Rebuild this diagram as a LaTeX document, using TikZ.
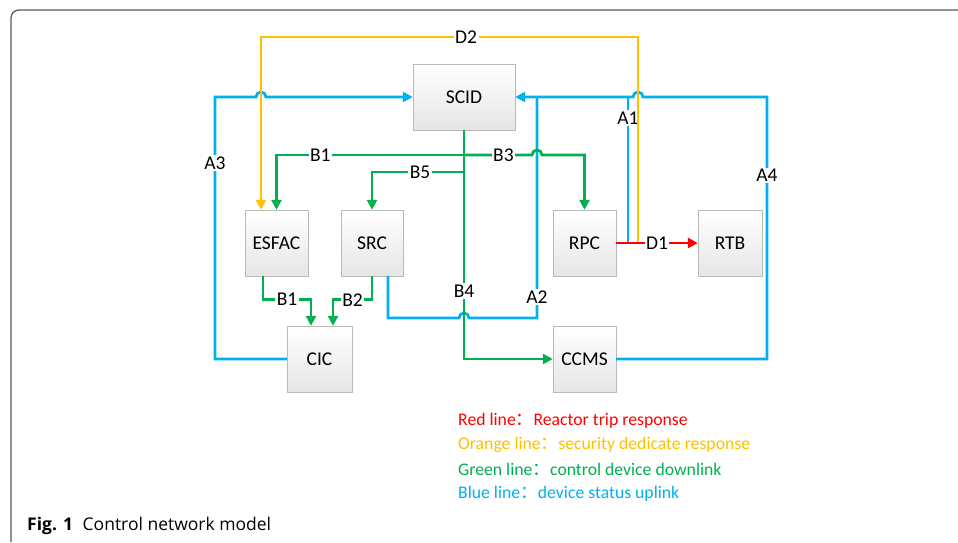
\documentclass[tikz,border=0pt]{standalone}
\usepackage{fontspec}
\setmainfont{Carlito}
\newfontfamily\cjk{Noto Sans CJK SC}
\newfontfamily\capfont{Open Sans}
\usepackage{tikz}
\usetikzlibrary{arrows.meta, positioning}
\usepackage{xcolor}
\definecolor{linkred}{RGB}{255, 0, 0}
\definecolor{linkorange}{RGB}{255, 192, 0}
\definecolor{linkgreen}{RGB}{0, 176, 80}
\definecolor{linkblue}{RGB}{0, 176, 240}
\newcommand{\wcolon}{{\cjk ：}}

\begin{document}
\begin{tikzpicture}[x=1pt, y=-1pt,
				unit/.style={draw=gray!55, top color=white, bottom color=gray!20,
					minimum height=66pt, inner sep=0pt, font=\fontsize{19.5}{22}\selectfont},
				lnk/.style={line width=2.8pt},
				tip/.style={-{Triangle[length=10pt, width=10pt]}},
				tag/.style={fill=white, text=black, inner sep=1.5pt, font=\fontsize{19.5}{22}\selectfont},
				key/.style={anchor=west, inner sep=0pt, font=\fontsize{17.7}{20}\selectfont}]
				\useasboundingbox (0,0) rectangle (958,542);
				%--- frame ---
				\draw[gray!70!black, line width=1.3pt, rounded corners=8pt]
				(11,542) -- (11,10) -- (958,10);
				%--- units ---
				\node[unit, minimum width=102pt] (scid) at (464,97) {SCID};
				\node[unit, minimum width=63pt] (esfac) at (276.5,243) {ESFAC};
				\node[unit, minimum width=62pt] (src) at (372,243) {SRC};
				\node[unit, minimum width=63pt] (rpc) at (584.5,243) {RPC};
				\node[unit, minimum width=64pt] (rtb) at (730,243) {RTB};
				\node[unit, minimum width=65pt] (cic) at (319.5,359) {CIC};
				\node[unit, minimum width=63pt] (ccms) at (584.5,359) {CCMS};
				\coordinate (b1) at (464,155);
				\coordinate (b5) at (464,172);
				\coordinate (d1) at (638,243);
				%--- blue: status uplink ---
				\draw[lnk, linkblue, tip] (cic.west) -- (215,359)
				-- node[tag, pos=0.748]{A3} (215,97) -- (256,97)
				arc[start angle=180, end angle=0, radius=5pt] -- (scid.west);
				\draw[lnk, linkblue, tip] (ccms.east) -- (767,359)
				-- node[tag, pos=0.70]{A4} (767,97) -- (643,97)
				arc[start angle=0, end angle=180, radius=5pt] -- (scid.east);
				\draw[lnk, linkblue] (628,243) -- node[tag, pos=0.856]{A1} (628,97);
				\draw[lnk, linkblue] ([xshift=16pt]src.south) -- (388,318) -- (459,318)
				arc[start angle=180, end angle=0, radius=5pt] -- (537,318)
				-- node[tag, pos=0.095]{A2} (537,97);
				%--- green: control downlink ---
				\draw[lnk, linkgreen, tip] (scid.south) -- node[tag, pos=0.703]{B4} (464,359)
				-- (ccms.west);
				\draw[lnk, linkgreen, tip] (b1) -| node[tag, pos=0.383]{B1} (esfac.north);
				\draw[lnk, linkgreen, tip] (b1) -- node[tag, pos=0.58]{B3} (532,155)
				arc[start angle=180, end angle=0, radius=5pt] -- (rpc.north |- b1) -- (rpc.north);
				\draw[lnk, linkgreen, tip] (b5) -| node[tag, pos=0.239]{B5} (src.north);
				\draw[lnk, linkgreen, tip] ([xshift=-13.5pt]esfac.south) -- ++(0,23.5)
				-- node[tag]{B1} ++(48,0) -- ([xshift=-8.5pt]cic.north);
				\draw[lnk, linkgreen, tip] (src.south) -- ++(0,23.5)
				-- node[tag]{B2} ++(-39,0) -- ([xshift=13.5pt]cic.north);
				%--- orange: security response ---
				\draw[lnk, linkorange, tip] (d1) -- (638,37)
				-- node[tag, pos=0.456]{D2} (261,37) -- ([xshift=-15.5pt]esfac.north);
				%--- red: trip response ---
				\draw[lnk, linkred, tip] (rpc.east) -- node[tag]{D1} (rtb.west);
				%--- legend ---
				\node[key, text=linkred] (kred) at (458,421) {Red line\wcolon Reactor trip response};
				\node[key, text=linkorange] (korange) at (458,445) {Orange line\wcolon security dedicate response};
				\node[key, text=linkgreen] (kgreen) at (458,469) {Green line\wcolon control device downlink};
				\node[key, text=linkblue] (kblue) at (458,494) {Blue line\wcolon device status uplink};
				%--- caption ---
				\node[anchor=base west, inner sep=0pt, font=\capfont\fontsize{17.5}{19}\selectfont]
				(cap) at (27,530) {\textbf{Fig. 1}\hspace{0.55em}Control network model};
			\end{tikzpicture}
\end{document}
